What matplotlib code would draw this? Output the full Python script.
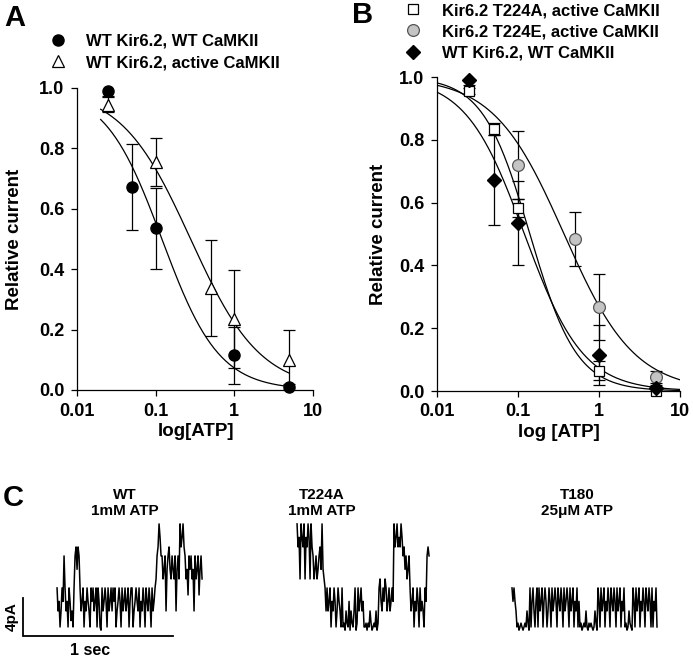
import numpy as np
import matplotlib.pyplot as plt
from matplotlib.ticker import NullLocator

plt.rcParams['font.family'] = ['Liberation Sans', 'DejaVu Sans']
plt.rcParams['font.weight'] = 'bold'
plt.rcParams['axes.linewidth'] = 0.9

# --- panel A data (ATP in mM) ---
atp_wt = [0.025, 0.05, 0.1, 1, 5]
wt_wt = [0.99, 0.672, 0.535, 0.115, 0.01]
wt_wt_err = [0.015, 0.143, 0.135, 0.095, 0.01]
atp_act = [0.025, 0.1, 0.5, 1, 5]
wt_act = [0.944, 0.755, 0.338, 0.235, 0.10]
wt_act_err = [0.025, 0.08, 0.16, 0.163, 0.10]

# --- panel B data ---
atp_t224a = [0.025, 0.05, 0.1, 1, 5]
t224a = [0.955, 0.834, 0.583, 0.064, 0.0]
t224a_err = [0.01, 0.02, 0.03, 0.03, 0.005]
atp_t224e = [0.1, 0.5, 1, 5]
t224e = [0.72, 0.484, 0.268, 0.045]
t224e_err = [0.108, 0.085, 0.105, 0.02]

# Hill fits: (IC50, Hill coefficient)
fit_wt_wt = (0.12, 1.2)
fit_wt_act = (0.278, 0.98)
fit_t224a = (0.14, 1.5)
fit_t224e = (0.37, 1.0)

xticks = [0.01, 0.1, 1, 10]
xticklabels = ['0.01', '0.1', '1', '10']
yticks = [0.0, 0.2, 0.4, 0.6, 0.8, 1.0]

# --- panel C traces: channel level per 1/150 s sample ---
# 0/1/2/3 open channels, k m / p q / r s / x y = same level with noise,
# a b c = partial flickers
trace_wt = ("paq0apqrpaq0pqza0p" "rcscr" "paqp0qapqa0pqpaqp0pq" "0m"
            "paqpq0paqp" "apqp0aqpq0" "paqpaqp0qp" "p0aqpqap0q" "apq0pqapq0" "paq"
            "pbrcxyr" "rbsrasrcsbrsbrasrb" "xcyxc" "rbs1rsrbsarbsr1srb")
trace_t224a = ("xcybxycxbycxybxc" "rbsrbsrcsx" "sbpa" "paqp0qapq0apqa0p"
               "0kmak0qmak0apmk" "paqpaq0" "0kmk0akm0k0amk" "pbqapqbpaqpaqpq"
               "xcyxcycxy" "rcsrbsr" "paqp0qapq0paqa0pq" "rcr")
trace_t180 = ("pqpqa" "0km0k0m0k0akm"
              "p0qpa0qp0p" "aqp0qpq0ap" "q0paqpq0pq" "apq0paqpq0" "paqp0qap0q"
              "0km0k0a0mk0k0m0akm" "pq0paqp0qapq0pqapq0paqp0qap" "0km0ak0m"
              "pq0paqp0qapq0pqapq0p0qap0")
level_map = {'0': 0, 'k': 0.12, 'm': -0.1, 'z': 0.2, 'a': 0.5,
             '1': 1, 'p': 1.22, 'q': 0.8, 'b': 1.5,
             '2': 2, 'r': 2.22, 's': 1.8, 'c': 2.5,
             '3': 3, 'x': 3.22, 'y': 2.8}
trace_names = ['WT\n1mM ATP', 'T224A\n1mM ATP', 'T180\n25\u03bcM ATP']
trace_start = [0.227, 1.827, 3.26]   # s
sample_dt = 1 / 150
unit_pA = 3.37
base_pA = 0.95


def hill(x, p):
    return 1.0 / (1.0 + (x / p[0]) ** p[1])


def style_axes(ax, xlabel):
    ax.set_xscale('log')
    ax.set_xlim(0.01, 10)
    ax.set_ylim(0, 1.0)
    ax.set_xticks(xticks)
    ax.set_xticklabels(xticklabels)
    ax.xaxis.set_minor_locator(NullLocator())
    ax.set_yticks(yticks)
    ax.set_yticklabels(['%.1f' % v for v in yticks])
    for s in ['top', 'right']:
        ax.spines[s].set_visible(False)
    ax.tick_params(direction='out', length=4, width=0.9, labelsize=13, pad=5)
    ax.set_xlabel(xlabel, fontsize=13.5, fontweight='bold')
    ax.set_ylabel('Relative current', fontsize=13.5, fontweight='bold')


fig = plt.figure(figsize=(6.93, 6.58), dpi=100)

# ---------------- A ----------------
axA = fig.add_axes([77 / 693, 1 - 390 / 658, 236 / 693, 302 / 658])
xa = np.logspace(np.log10(0.02), np.log10(5), 200)
axA.plot(xa, hill(xa, fit_wt_wt), color='black', lw=0.9)
axA.plot(xa, hill(xa, fit_wt_act), color='black', lw=0.9)
axA.errorbar(atp_wt, wt_wt, yerr=wt_wt_err, fmt='none', ecolor='black',
             elinewidth=0.9, capsize=4.5, capthick=0.9)
axA.errorbar(atp_act, wt_act, yerr=wt_act_err, fmt='none', ecolor='black',
             elinewidth=0.9, capsize=4.5, capthick=0.9)
hA1, = axA.plot(atp_wt, wt_wt, 'o', ms=8, mfc='black', mec='black',
                clip_on=False, zorder=5, label='WT Kir6.2, WT CaMKII')
hA2, = axA.plot(atp_act, wt_act, '^', ms=8.5, mfc='white', mec='black', mew=0.9,
                clip_on=False, zorder=5, label='WT Kir6.2, active CaMKII')
style_axes(axA, 'log[ATP]')
axA.yaxis.set_label_coords(-0.227, 0.5)
axA.xaxis.set_label_coords(0.504, -0.11)
axA.legend(handles=[hA1, hA2], loc='upper left', bbox_to_anchor=(48 / 693, 1 - 34 / 658),
           bbox_transform=fig.transFigure, frameon=False, fontsize=12, numpoints=1,
           handlelength=1.2, handletextpad=1.1, labelspacing=0.37, borderpad=0,
           borderaxespad=0)

# ---------------- B ----------------
axB = fig.add_axes([437 / 693, 1 - 391 / 658, 243 / 693, 314 / 658])
xb = np.logspace(-2, 1, 200)
for p in [fit_t224a, fit_t224e, fit_wt_wt]:
    axB.plot(xb, hill(xb, p), color='black', lw=0.9)
for x, y, e in [(atp_t224a, t224a, t224a_err), (atp_t224e, t224e, t224e_err),
                (atp_wt, wt_wt, wt_wt_err)]:
    axB.errorbar(x, y, yerr=e, fmt='none', ecolor='black', elinewidth=0.9,
                 capsize=4.5, capthick=0.9)
hB1, = axB.plot(atp_t224a, t224a, 's', ms=7.5, mfc='white', mec='black', mew=0.9,
                clip_on=False, zorder=5, label='Kir6.2 T224A, active CaMKII')
hB2, = axB.plot(atp_t224e, t224e, 'o', ms=8.5, mfc='#c4c4c4', mec='#555555', mew=0.9,
                clip_on=False, zorder=5, label='Kir6.2 T224E, active CaMKII')
hB3, = axB.plot(atp_wt, wt_wt, 'D', ms=7.5, mfc='black', mec='black',
                clip_on=False, zorder=6, label='WT Kir6.2, WT CaMKII')
style_axes(axB, 'log [ATP]')
axB.yaxis.set_label_coords(-0.204, 0.5)
axB.xaxis.set_label_coords(0.5, -0.105)
axB.legend(handles=[hB1, hB2, hB3], loc='upper left', bbox_to_anchor=(403 / 693, 1 - 3 / 658),
           bbox_transform=fig.transFigure, frameon=False, fontsize=12, numpoints=1,
           handlelength=1.2, handletextpad=1.15, labelspacing=0.37, borderpad=0,
           borderaxespad=0)

# ---------------- C ----------------
axC = fig.add_axes([0, 0, 1, 153 / 658])
axC.set_xlim(-23 / 150, 670 / 150)
axC.set_ylim(-22 / 9.5, 131 / 9.5)
axC.axis('off')
for trace, t0 in zip([trace_wt, trace_t224a, trace_t180], trace_start):
    vals = np.array([level_map[c] for c in trace]) * unit_pA + base_pA
    t = t0 + np.arange(len(vals)) * sample_dt
    axC.plot(t, vals, color='black', lw=1.1)
# scale bar 1 s / 4 pA
axC.plot([0, 0, 1], [4, 0, 0], color='black', lw=1.3, solid_joinstyle='miter')
axC.text(-0.075, 2.0, '4pA', rotation=90, ha='center', va='center', fontsize=11)
axC.text(0.45, -0.7, '1 sec', ha='center', va='top', fontsize=11.5)

for name, xc in zip(trace_names, [125, 322, 577]):
    fig.text(xc / 693, 1 - 503 / 658, name, ha='center', va='center', fontsize=11,
             linespacing=1.25)

fig.text(4 / 693, 1 - 18 / 658, 'A', fontsize=21, va='center', ha='left')
fig.text(352 / 693, 1 - 15 / 658, 'B', fontsize=21, va='center', ha='left')
fig.text(3 / 693, 1 - 498 / 658, 'C', fontsize=21, va='center', ha='left')

fig.savefig('out.png', dpi=100)
